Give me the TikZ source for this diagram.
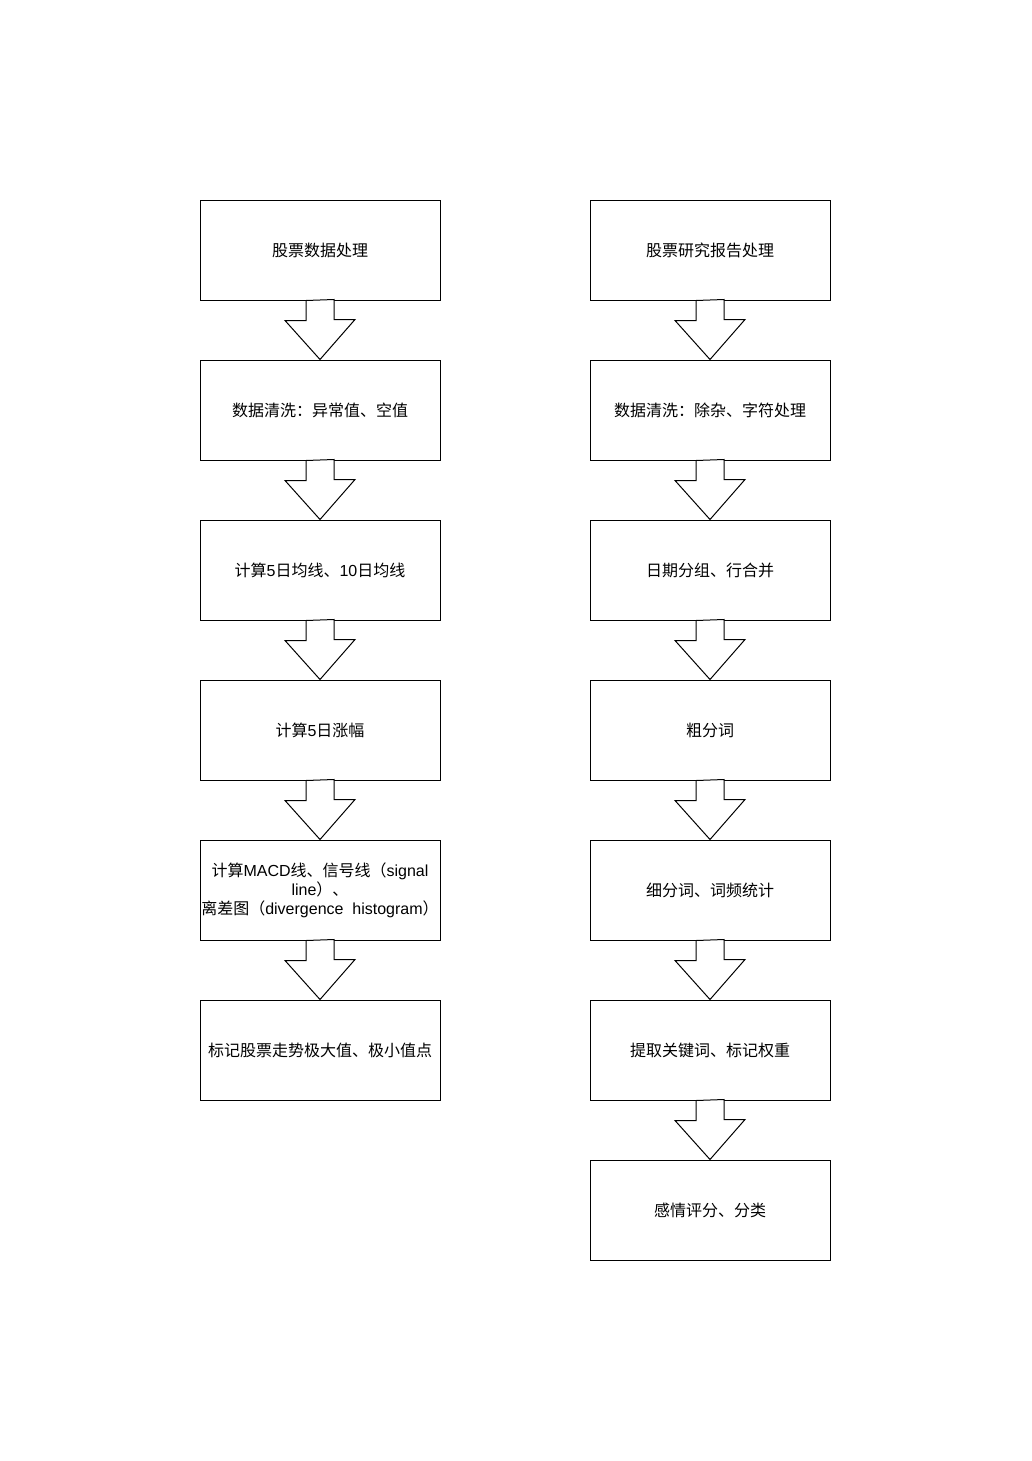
\documentclass[tikz,border=0pt]{standalone}
\usepackage{fontspec}
\setmainfont{Noto Sans CJK SC}
\newfontfamily\lat{Liberation Sans}
\usetikzlibrary{calc}
\tikzset{
  stepbox/.style={draw=black, line width=1pt, fill=white, minimum width=240pt, minimum height=100pt, inner sep=0pt, align=center, font=\fontsize{16pt}{19pt}\selectfont, text=black},
  blockarrow/.style={draw=black, line width=1pt, fill=white, line join=miter}
}
\newcommand{\barrow}[2]{\draw[blockarrow] (#1.south) ++(-14,0) -- ++(0,20) -- ++(-21,0) -- (#2.north) -- ++(35,-40) -- ++(-21,0) -- ++(0,-20) -- cycle;}
\begin{document}
\begin{tikzpicture}[x=1pt,y=-1pt]
\useasboundingbox (0,0) rectangle (1031,1461);
% left column
\node[stepbox] (l1) at (320,250) {股票数据处理};
\node[stepbox] (l2) at (320,410) {数据清洗：异常值、空值};
\node[stepbox] (l3) at (320,570) {计算{\lat 5}日均线、{\lat 10}日均线};
\node[stepbox] (l4) at (320,730) {计算{\lat 5}日涨幅};
\node[stepbox] (l5) at (320,890) {计算{\lat MACD}线、信号线（{\lat signal}\\{\lat line}）、\\离差图（{\lat divergence\ \ histogram}）};
\node[stepbox] (l6) at (320,1050) {标记股票走势极大值、极小值点};
% right column
\node[stepbox] (r1) at (710,250) {股票研究报告处理};
\node[stepbox] (r2) at (710,410) {数据清洗：除杂、字符处理};
\node[stepbox] (r3) at (710,570) {日期分组、行合并};
\node[stepbox] (r4) at (710,730) {粗分词};
\node[stepbox] (r5) at (710,890) {细分词、词频统计};
\node[stepbox] (r6) at (710,1050) {提取关键词、标记权重};
\node[stepbox] (r7) at (710,1210) {感情评分、分类};
% arrows
\barrow{l1}{l2}
\barrow{l2}{l3}
\barrow{l3}{l4}
\barrow{l4}{l5}
\barrow{l5}{l6}
\barrow{r1}{r2}
\barrow{r2}{r3}
\barrow{r3}{r4}
\barrow{r4}{r5}
\barrow{r5}{r6}
\barrow{r6}{r7}
\end{tikzpicture}
\end{document}
